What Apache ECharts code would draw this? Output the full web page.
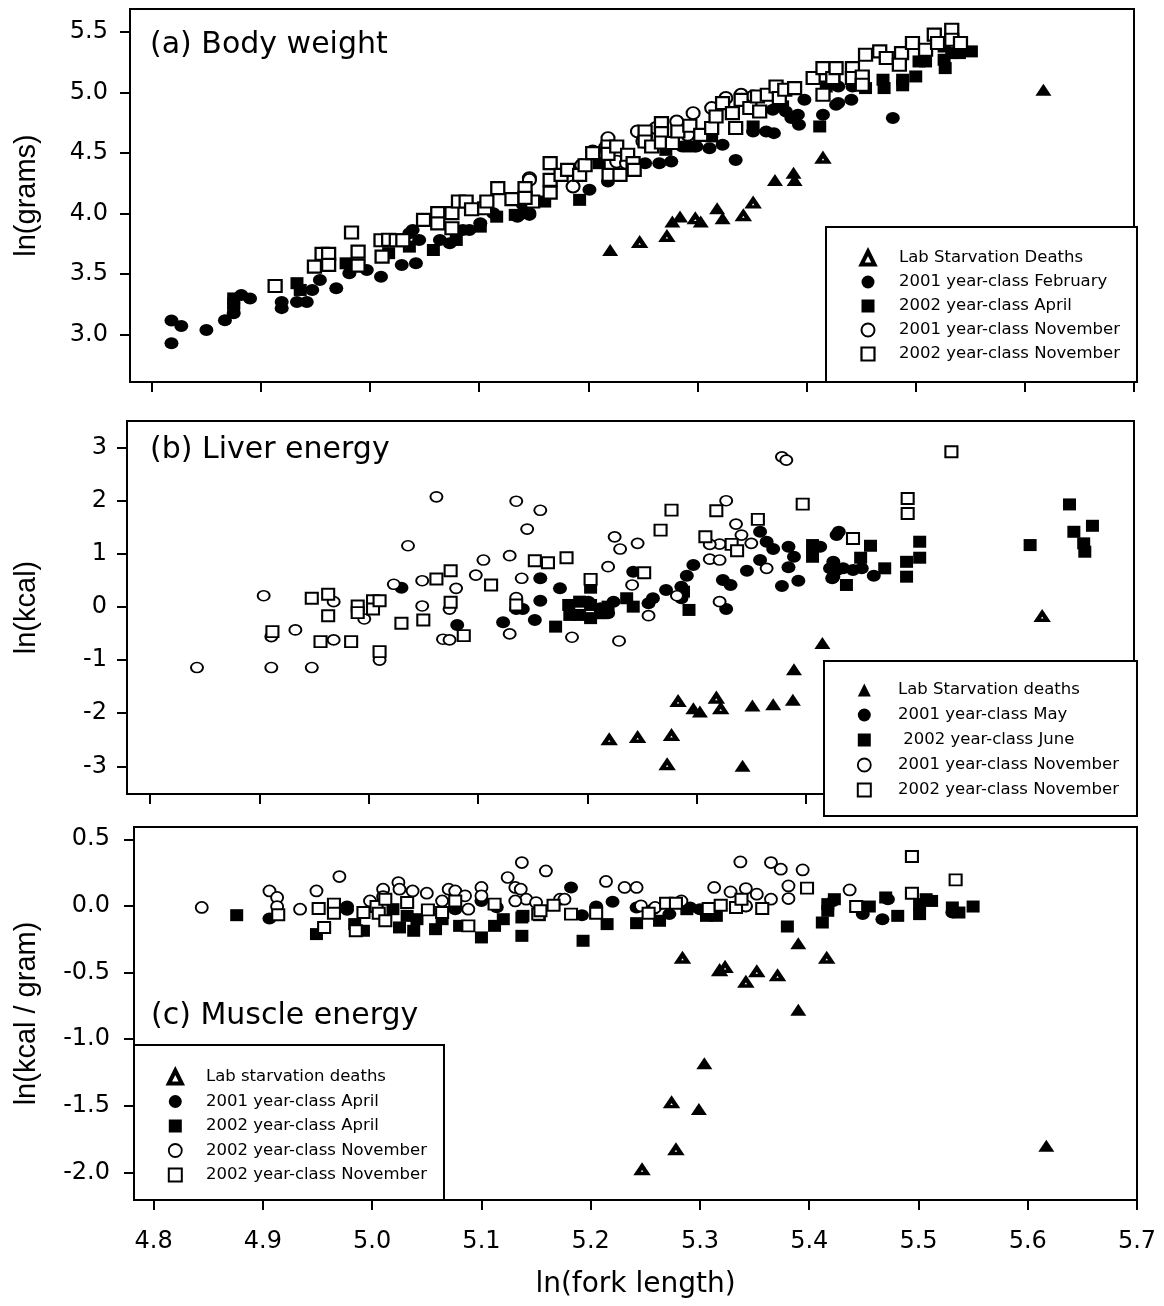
<!DOCTYPE html>
<html>
<head>
<meta charset="utf-8">
<script src="https://cdn.jsdelivr.net/npm/echarts@6/dist/echarts.min.js"></script>
<style>
  html, body { margin: 0; padding: 0; background: #fff; }
  #chart { width: 1164px; height: 1306px; }
</style>
</head>
<body>
<div id="chart"></div>
<script>
// ---- tick labels ----
const xTicks = [4.8, 4.9, 5.0, 5.1, 5.2, 5.3, 5.4, 5.5, 5.6, 5.7]
const yTicksA = [3.0, 3.5, 4.0, 4.5, 5.0, 5.5]
const yTicksB = [-3, -2, -1, 0, 1, 2, 3]
const yTicksC = [-2.0, -1.5, -1.0, -0.5, 0.0, 0.5]

const panelTitles = ['(a) Body weight', '(b) Liver energy', '(c) Muscle energy']
const yNames = ['ln(grams)', 'ln(kcal)', 'ln(kcal / gram)']
const xName = 'ln(fork length)'

const legendA = ['Lab Starvation Deaths', '2001 year-class February', '2002 year-class April', '2001 year-class November', '2002 year-class November']
const legendB = ['Lab Starvation deaths', '2001 year-class May', ' 2002 year-class June', '2001 year-class November', '2002 year-class November']
const legendC = ['Lab starvation deaths', '2001 year-class April', '2002 year-class April', '2002 year-class November', '2002 year-class November']

// ---- (a) body weight: [ln(fork length), ln(grams)] ----
const aFeb2001 = [[4.818,3.117],[4.818,2.93],[4.827,3.073],[4.850,3.04],[4.867,3.12],[4.875,3.178],[4.882,3.329],[4.890,3.30],[4.919,3.27],[4.919,3.22],[4.933,3.27],[4.942,3.27],[4.947,3.37],[4.954,3.453],[4.969,3.384],[4.981,3.508],[4.997,3.535],[5.010,3.48],[5.029,3.577],[5.042,3.591],[5.039,3.866],[5.073,3.756],[5.091,3.866],[5.146,4.006],[5.135,3.975],[5.036,3.839],[5.045,3.783],[5.064,3.783],[5.085,3.866],[5.101,3.92],[5.113,4.004],[5.140,4.073],[5.146,3.99],[5.137,3.99],[5.201,4.197],[5.218,4.265],[5.229,4.32],[5.252,4.417],[5.265,4.417],[5.276,4.43],[5.286,4.555],[5.299,4.555],[5.311,4.541],[5.323,4.569],[5.335,4.444],[5.351,4.679],[5.363,4.679],[5.370,4.665],[5.369,4.858],[5.381,4.844],[5.392,4.817],[5.393,4.734],[5.386,4.789],[5.398,4.94],[5.415,4.817],[5.427,4.90],[5.429,4.913],[5.441,4.94],[5.479,4.789],[5.429,5.05],[5.442,5.05]]
const aApr2002 = [[4.875,3.26],[4.875,3.22],[4.875,3.30],[4.933,3.426],[4.936,3.37],[4.978,3.59],[5.017,3.674],[5.036,3.728],[5.058,3.70],[5.079,3.783],[5.101,3.893],[5.116,3.975],[5.133,3.99],[5.192,4.114],[5.160,4.10],[5.412,4.72],[5.210,4.417],[5.271,4.527],[5.293,4.555],[5.313,4.638],[5.351,4.72],[5.378,4.886],[5.418,5.05],[5.454,5.037],[5.470,5.106],[5.471,5.037],[5.488,5.106],[5.488,5.06],[5.500,5.133],[5.503,5.257],[5.509,5.257],[5.526,5.271],[5.527,5.202],[5.533,5.326],[5.540,5.326],[5.551,5.34],[5.526,5.38]]
const aNov2001 = [[5.146,4.293],[5.146,4.279],[5.186,4.224],[5.194,4.40],[5.204,4.513],[5.218,4.624],[5.216,4.55],[5.226,4.43],[5.235,4.417],[5.245,4.679],[5.250,4.596],[5.262,4.707],[5.281,4.761],[5.296,4.83],[5.291,4.651],[5.313,4.872],[5.326,4.955],[5.340,4.982],[5.351,4.968]]
const aNov2002 = [[4.913,3.403],[4.983,3.844],[4.949,3.563],[4.956,3.668],[4.962,3.668],[4.962,3.577],[4.989,3.687],[4.989,3.571],[5.011,3.645],[5.010,3.78],[5.017,3.785],[5.024,3.78],[5.030,3.78],[5.049,3.949],[5.062,4.004],[5.062,3.92],[5.075,4.004],[5.075,3.88],[5.081,4.10],[5.088,4.10],[5.093,4.037],[5.105,4.045],[5.107,4.10],[5.117,4.211],[5.130,4.12],[5.142,4.211],[5.149,4.10],[5.142,4.13],[5.165,4.417],[5.165,4.279],[5.165,4.174],[5.175,4.32],[5.181,4.362],[5.192,4.32],[5.197,4.40],[5.204,4.50],[5.218,4.555],[5.218,4.494],[5.219,4.32],[5.226,4.555],[5.229,4.32],[5.236,4.486],[5.241,4.417],[5.242,4.362],[5.252,4.679],[5.252,4.596],[5.258,4.555],[5.267,4.748],[5.267,4.665],[5.267,4.588],[5.277,4.583],[5.282,4.679],[5.293,4.726],[5.303,4.651],[5.313,4.707],[5.317,4.802],[5.323,4.913],[5.332,4.83],[5.335,4.707],[5.340,4.94],[5.348,4.872],[5.355,4.968],[5.357,4.844],[5.364,4.982],[5.372,5.05],[5.375,4.955],[5.380,5.023],[5.389,5.037],[5.406,5.12],[5.415,5.202],[5.424,5.106],[5.415,4.982],[5.424,5.12],[5.427,5.202],[5.442,5.202],[5.442,5.12],[5.451,5.133],[5.451,5.064],[5.454,5.312],[5.467,5.34],[5.473,5.285],[5.487,5.326],[5.485,5.23],[5.497,5.409],[5.509,5.354],[5.517,5.478],[5.520,5.409],[5.533,5.519],[5.533,5.436],[5.541,5.409]]
const aLabOpen = [[5.247,3.761],[5.272,3.811],[5.298,3.957],[5.342,3.982],[5.351,4.087],[5.415,4.458]]
const aLabSolid = [[5.220,3.70],[5.277,3.935],[5.284,3.976],[5.303,3.935],[5.318,4.045],[5.323,3.963],[5.371,4.279],[5.388,4.337],[5.389,4.279],[5.617,5.023]]

// ---- (b) liver energy: [ln(fork length), ln(kcal)] ----
const bMay2001 = [[5.030,0.363],[5.081,-0.338],[5.123,-0.288],[5.135,-0.04],[5.141,-0.04],[5.152,-0.244],[5.157,0.54],[5.157,0.118],[5.175,0.35],[5.201,0.10],[5.212,-0.024],[5.219,-0.118],[5.224,0.10],[5.242,0.664],[5.256,0.07],[5.260,0.164],[5.272,0.32],[5.286,0.382],[5.286,0.164],[5.291,0.588],[5.297,0.79],[5.324,0.508],[5.331,0.414],[5.327,-0.04],[5.346,0.683],[5.358,1.415],[5.364,1.228],[5.370,1.09],[5.358,0.883],[5.378,0.395],[5.384,1.133],[5.389,0.945],[5.384,0.746],[5.393,0.494],[5.408,1.115],[5.428,1.353],[5.424,0.54],[5.428,0.69],[5.430,1.415],[5.413,1.133],[5.425,0.85],[5.422,0.727],[5.425,0.57],[5.434,0.727],[5.443,0.695],[5.451,0.727],[5.462,0.588]]
const bJun2002 = [[5.171,-0.37],[5.183,0.038],[5.184,-0.15],[5.193,0.10],[5.193,-0.15],[5.203,-0.21],[5.203,0.038],[5.212,-0.118],[5.219,0.006],[5.236,0.164],[5.242,0.006],[5.203,0.363],[5.293,-0.056],[5.288,0.288],[5.406,1.165],[5.406,0.945],[5.459,1.152],[5.450,0.927],[5.437,0.414],[5.472,0.727],[5.504,1.228],[5.504,0.927],[5.492,0.85],[5.492,0.57],[5.605,1.165],[5.641,1.93],[5.645,1.415],[5.654,1.197],[5.655,1.04],[5.662,1.528]]
const bNov2001 = [[4.843,-1.14],[4.904,0.212],[4.911,-0.558],[4.911,-1.14],[4.933,-0.432],[4.948,-1.14],[4.968,0.10],[4.968,-0.62],[4.996,-0.226],[5.010,-1.0],[5.023,0.427],[5.036,1.152],[5.049,0.494],[5.049,0.019],[5.062,2.073],[5.068,-0.607],[5.074,-0.62],[5.074,-0.04],[5.080,0.35],[5.098,0.60],[5.105,0.883],[5.129,0.965],[5.135,1.99],[5.145,1.466],[5.140,0.54],[5.135,0.175],[5.129,-0.507],[5.157,1.82],[5.225,1.32],[5.230,1.09],[5.246,1.197],[5.219,0.758],[5.241,0.414],[5.186,-0.57],[5.229,-0.64],[5.256,-0.164],[5.282,0.212],[5.312,0.90],[5.321,0.883],[5.321,1.184],[5.312,1.178],[5.327,2.0],[5.336,1.56],[5.341,1.353],[5.350,1.197],[5.321,0.10],[5.364,0.727],[5.378,2.825],[5.382,2.763]]
const bNov2002 = [[4.912,-0.464],[4.948,0.163],[4.963,0.239],[4.963,-0.164],[4.956,-0.652],[4.984,-0.652],[4.990,0.019],[4.990,-0.107],[5.004,0.118],[5.004,-0.038],[5.010,0.118],[5.010,-0.84],[5.030,-0.307],[5.050,-0.244],[5.062,0.526],[5.075,0.683],[5.075,0.088],[5.087,-0.54],[5.112,0.414],[5.152,0.87],[5.135,0.038],[5.164,0.833],[5.181,0.927],[5.203,0.52],[5.252,0.645],[5.267,1.447],[5.277,1.823],[5.308,1.321],[5.318,1.81],[5.332,1.178],[5.337,1.058],[5.356,1.648],[5.397,1.936],[5.533,2.92],[5.493,2.04],[5.493,1.76],[5.443,1.29]]
const bLabOpen = [[5.220,-2.50],[5.246,-2.457],[5.277,-2.42],[5.273,-2.97],[5.283,-1.78],[5.318,-1.716],[5.322,-1.917],[5.616,-0.18]]
const bLabSolid = [[5.342,-2.99],[5.297,-1.904],[5.303,-1.968],[5.351,-1.855],[5.370,-1.83],[5.388,-1.748],[5.389,-1.17],[5.415,-0.68]]

// ---- (c) muscle energy: [ln(fork length), ln(kcal / gram)] ----
const cApr2001 = [[4.906,-0.095],[4.977,-0.005],[4.977,-0.03],[5.076,-0.025],[5.100,0.037],[5.114,-0.01],[5.182,0.138],[5.192,-0.07],[5.205,-0.005],[5.220,0.03],[5.242,-0.012],[5.257,-0.025],[5.272,-0.062],[5.291,-0.012],[5.300,-0.025],[5.342,-0.005],[5.422,0.037],[5.449,-0.062],[5.467,-0.1],[5.472,0.05],[5.531,-0.05]]
const cApr2002 = [[4.876,-0.07],[4.949,-0.212],[4.984,-0.137],[4.992,-0.187],[5.019,-0.025],[5.025,-0.162],[5.032,-0.075],[5.038,-0.187],[5.041,-0.1],[5.058,-0.175],[5.064,-0.1],[5.080,-0.15],[5.100,-0.237],[5.112,-0.15],[5.120,-0.1],[5.137,-0.087],[5.137,-0.225],[5.138,-0.075],[5.153,-0.07],[5.193,-0.262],[5.215,-0.137],[5.242,-0.13],[5.263,-0.112],[5.288,-0.025],[5.306,-0.075],[5.315,-0.075],[5.380,-0.155],[5.412,-0.125],[5.417,0.013],[5.417,-0.037],[5.423,0.05],[5.455,-0.005],[5.470,0.063],[5.481,-0.075],[5.501,-0.062],[5.507,0.05],[5.512,0.037],[5.501,0.013],[5.531,-0.012],[5.537,-0.05],[5.550,-0.005]]
const cNovCircle = [[4.844,-0.012],[4.906,0.112],[4.913,0.063],[4.913,-0.005],[4.934,-0.025],[4.949,0.112],[4.970,0.22],[4.998,0.037],[5.010,0.125],[5.010,0.07],[5.024,0.175],[5.025,0.125],[5.037,0.112],[5.050,0.095],[5.064,0.037],[5.070,0.125],[5.076,0.112],[5.085,0.075],[5.088,-0.025],[5.100,0.138],[5.100,0.075],[5.124,0.213],[5.131,0.138],[5.136,0.125],[5.137,0.325],[5.141,0.05],[5.131,0.037],[5.150,0.025],[5.159,0.262],[5.172,0.05],[5.176,0.05],[5.214,0.183],[5.231,0.138],[5.242,0.138],[5.246,0.0],[5.259,-0.012],[5.283,0.037],[5.313,0.138],[5.328,0.105],[5.337,0.33],[5.342,0.13],[5.352,0.088],[5.342,0.0],[5.365,0.325],[5.374,0.275],[5.365,0.05],[5.381,0.15],[5.381,0.055],[5.394,0.27],[5.437,0.12]]
const cNovSquare = [[4.914,-0.067],[4.951,-0.02],[4.956,-0.162],[4.965,0.013],[4.965,-0.055],[4.985,-0.187],[4.992,-0.05],[5.004,-0.005],[5.006,-0.055],[5.012,0.05],[5.012,-0.112],[5.032,0.025],[5.051,-0.03],[5.064,-0.05],[5.076,0.037],[5.088,-0.15],[5.112,0.013],[5.152,-0.062],[5.154,-0.037],[5.166,0.005],[5.182,-0.062],[5.205,-0.055],[5.253,-0.055],[5.269,0.02],[5.278,0.02],[5.308,-0.02],[5.319,0.005],[5.333,-0.012],[5.338,0.05],[5.357,-0.02],[5.398,0.133],[5.494,0.37],[5.534,0.195],[5.494,0.095],[5.443,-0.005]]
const cLabOpen = [[5.284,-0.394],[5.318,-0.487],[5.323,-0.462],[5.342,-0.574],[5.352,-0.495],[5.371,-0.525],[5.416,-0.394],[5.274,-1.479],[5.278,-1.831],[5.247,-1.981]]
const cLabSolid = [[5.390,-0.28],[5.390,-0.78],[5.304,-1.182],[5.299,-1.524],[5.617,-1.80]]

// ---- styling helpers ----
const FONT = 'DejaVu Sans'
const BLACK = '#000'
const filled = { color: BLACK, opacity: 1 }
const hollow = w => ({ color: '#fff', borderColor: BLACK, borderWidth: w, opacity: 1 })

function scatter (name, idx, data, symbol, size, itemStyle) {
  return {
    name, type: 'scatter', xAxisIndex: idx, yAxisIndex: idx,
    data, symbol, symbolSize: size, itemStyle,
    silent: true, emphasis: { disabled: true }
  }
}

// legend entries are keyed, then labelled through the formatter
const legendLabels = {}
;[['a', legendA], ['b', legendB], ['c', legendC]].forEach(([p, arr]) => {
  arr.forEach((t, i) => { legendLabels[p + i] = t })
})

const series = [
  scatter('a1', 0, aFeb2001, 'circle', [14, 12], filled),
  scatter('a2', 0, aApr2002, 'rect', [13, 12], filled),
  scatter('a3', 0, aNov2001, 'circle', [13, 12], hollow(2)),
  scatter('a4', 0, aNov2002, 'rect', [13, 12], hollow(2.2)),
  scatter('aL', 0, aLabSolid, 'triangle', [16, 12], filled),
  scatter('a0', 0, aLabOpen, 'triangle', [10, 7.5], hollow(4)),

  scatter('b1', 1, bMay2001, 'circle', [14, 12], filled),
  scatter('b2', 1, bJun2002, 'rect', [13, 12], filled),
  scatter('b3', 1, bNov2001, 'circle', [12, 10], hollow(1.8)),
  scatter('b4', 1, bNov2002, 'rect', [12, 11], hollow(2)),
  scatter('b0', 1, bLabSolid, 'triangle', [16, 12], filled),
  scatter('bL', 1, bLabOpen, 'triangle', [10, 7.5], hollow(4)),

  scatter('c1', 2, cApr2001, 'circle', [14, 12], filled),
  scatter('c2', 2, cApr2002, 'rect', [13, 12], filled),
  scatter('c3', 2, cNovCircle, 'circle', [12, 11], hollow(1.8)),
  scatter('c4', 2, cNovSquare, 'rect', [12, 11], hollow(2)),
  scatter('cL', 2, cLabSolid, 'triangle', [16, 12], filled),
  scatter('c0', 2, cLabOpen, 'triangle', [10, 7.5], hollow(4))
]

const grids = [
  { left: 130, top: 9, width: 1004, height: 373 },
  { left: 127, top: 421, width: 1007, height: 373 },
  { left: 134, top: 827, width: 1003, height: 373 }
].map(g => ({ ...g, show: true, borderColor: BLACK, borderWidth: 2, backgroundColor: 'transparent', outerBoundsMode: 'none' }))

const xMins = [4.780, 4.779, 4.782]
const yRanges = [[2.61, 5.69], [-3.52, 3.50], [-2.208, 0.592]]
const yTicks = [yTicksA, yTicksB, yTicksC]
const yFormat = [v => v.toFixed(1), v => String(v), v => v.toFixed(1)]
const yLabelMargin = [22, 20, 24]
const yNameGap = [89, 86, 93]

const tickStyle = { color: BLACK, width: 2 }

const xAxis = [0, 1, 2].map(i => ({
  gridIndex: i, type: 'value', min: xMins[i], max: 5.70,
  axisLine: { show: true, onZero: false, lineStyle: tickStyle },
  axisTick: { show: true, length: 10, lineStyle: tickStyle, customValues: xTicks },
  axisLabel: {
    show: i === 2, customValues: xTicks, formatter: v => v.toFixed(1),
    fontFamily: FONT, fontSize: 24, color: BLACK, margin: 30
  },
  splitLine: { show: false },
  name: i === 2 ? xName : '',
  nameLocation: 'middle', nameGap: 71,
  nameTextStyle: { fontFamily: FONT, fontSize: 28, color: BLACK }
}))

const yAxis = [0, 1, 2].map(i => ({
  gridIndex: i, type: 'value', min: yRanges[i][0], max: yRanges[i][1],
  axisLine: { show: true, onZero: false, lineStyle: tickStyle },
  axisTick: { show: true, length: 10, lineStyle: tickStyle, customValues: yTicks[i] },
  axisLabel: {
    customValues: yTicks[i], formatter: yFormat[i],
    fontFamily: FONT, fontSize: 24, color: BLACK, margin: yLabelMargin[i]
  },
  splitLine: { show: false },
  name: yNames[i], nameLocation: 'middle', nameRotate: 90, nameGap: yNameGap[i],
  nameTextStyle: { fontFamily: 'Liberation Sans', fontSize: 29, color: BLACK }
}))

const titlePos = [[150, 30], [150, 435], [151, 1001]]
const title = panelTitles.map((t, i) => ({
  text: t, left: titlePos[i][0], top: titlePos[i][1], padding: 0,
  textStyle: { fontFamily: FONT, fontSize: 30, fontWeight: 'normal', color: BLACK }
}))

// gap between legend icon and text is a blank rich-text box
const legendStyle = gap => ({
  fontFamily: FONT, fontSize: 16.5, color: BLACK, lineHeight: 17,
  rich: { s: { width: gap, lineHeight: 17, fontSize: 16.5 } }
})
const legendBase = {
  orient: 'vertical', selectedMode: false, itemWidth: 13, itemHeight: 13,
  itemStyle: { borderWidth: 'inherit' },
  backgroundColor: '#fff', borderColor: BLACK, borderWidth: 2,
  formatter: n => '{s| }' + legendLabels[n]
}
const legend = [
  { ...legendBase, data: ['a0', 'a1', 'a2', 'a3', 'a4'], left: 826, top: 227,
    itemGap: 7, padding: [22.5, 17, 19.5, 33.5], textStyle: legendStyle(19.5) },
  { ...legendBase, data: ['b0', 'b1', 'b2', 'b3', 'b4'], left: 824, top: 661,
    itemGap: 8, padding: [20.5, 18, 17.5, 32.8], textStyle: legendStyle(22.2) },
  { ...legendBase, data: ['c0', 'c1', 'c2', 'c3', 'c4'], left: 134, top: 1045,
    itemGap: 7.5, padding: [23.5, 17, 16.5, 32.8], textStyle: legendStyle(19.2) }
]

const chart = echarts.init(document.getElementById('chart'))
chart.setOption({
  animation: false,
  backgroundColor: '#fff',
  textStyle: { fontFamily: FONT },
  title,
  legend,
  grid: grids,
  xAxis,
  yAxis,
  series
})
</script>
</body>
</html>
